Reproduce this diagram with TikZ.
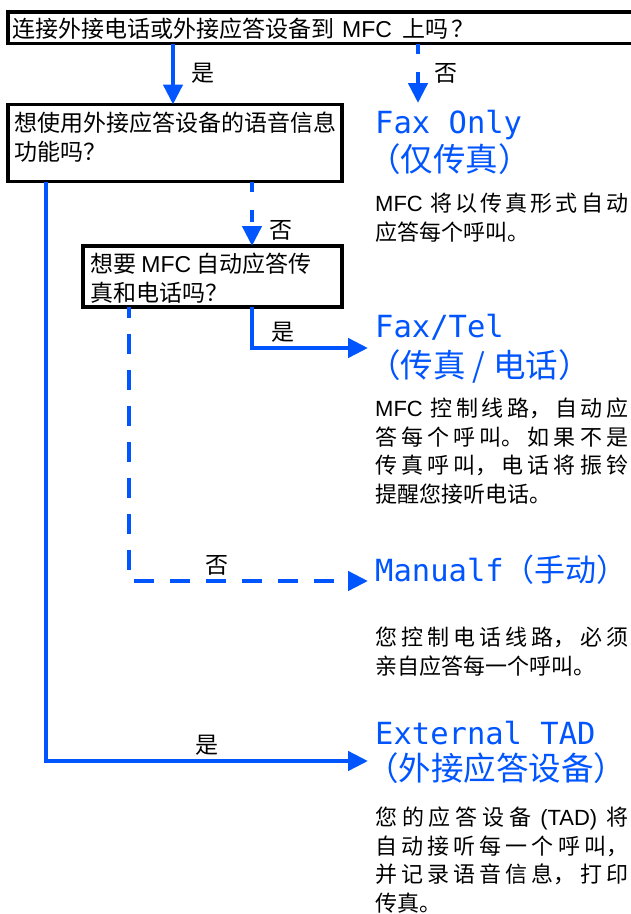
\documentclass[tikz,border=0pt]{standalone}
\usepackage{fontspec}
\setmainfont{Noto Sans CJK SC}
\newfontfamily\lcdfont{DejaVu Sans Mono}
\newfontfamily\latn{Liberation Sans}
\newcommand\cjkttlfont{\rmfamily\fontsize{32.5}{36}\selectfont}
\newcommand\cjksmallttlfont{\rmfamily\fontsize{31}{36}\selectfont}
\usetikzlibrary{arrows.meta}
\definecolor{fblue}{RGB}{0,85,255}
\XeTeXlinebreaklocale "zh"
\XeTeXlinebreakskip=0pt plus 3pt
\begin{document}
\begin{tikzpicture}[x=1pt,y=-1pt,
  qbox/.style={draw=black,line width=3.5pt,inner sep=0pt,outer sep=0pt,anchor=north west},
  qtext/.style={anchor=base west,inner sep=0pt,align=left,font=\fontsize{23}{29}\selectfont},
  lbl/.style={inner sep=0pt,font=\fontsize{23}{26}\selectfont},
  conn/.style={draw=fblue,line width=4.5pt,-{Triangle[length=20pt,width=19pt]}},
  noshort/.style={conn,dash pattern=on 10pt off 18pt on 12pt off 18pt},
  nolong/.style={conn,dash pattern=on 20pt off 16pt,dash phase=9pt},
  ttl/.style={anchor=base west,inner sep=0pt,text=fblue,font=\lcdfont\fontsize{30.5}{34}\selectfont},
  cttl/.style={anchor=base west,inner sep=0pt,text=fblue,font=\cjkttlfont},
  body/.style={anchor=base west,inner sep=0pt,text width=253pt,align=justify,font=\fontsize{22}{28.7}\selectfont}]
\useasboundingbox (0,0) rectangle (631,914);
% question boxes
\node[qbox,minimum width=640pt,minimum height=31.5pt] (q1) at (8,12) {};
\node[qtext] (q1t) at (12,37.5) {连接外接电话或外接应答设备到\hspace{8pt}{\latn MFC}\hspace{10pt}上吗\hspace{4pt}？};
\node[qbox,minimum width=334pt,minimum height=77pt] (q2) at (8,104.5) {};
\node[qtext] (q2t) at (14,160.8) {想使用外接应答设备的语音信息\\[0.5pt]功能吗？};
\node[qbox,minimum width=259pt,minimum height=61pt] (q3) at (83,246) {};
\node[qtext] (q3t) at (90,301.2) {想要 {\latn MFC} 自动应答传\\[-0.5pt]真和电话吗？};
% results
\node[ttl] (r1a) at (375,133) {Fax Only};
\node[cttl] (r1b) at (368,171) {（仅传真）};
\node[body] (r1c) at (375,211.4) {{\latn MFC} 将以传真形式自动\linebreak 应答每个呼叫。};
\node[ttl] (r2a) at (375,337) {Fax/Tel};
\node[cttl] (r2b) at (368,377) {（传真 / 电话）};
\node[body] (r2c) at (375,416.5) {{\latn MFC} 控制线路，自动应\linebreak 答每个呼叫。如果不是\linebreak 传真呼叫，电话将振铃\linebreak 提醒您接听电话。};
\node[ttl] (r3a) at (375,581) {Manualf{\cjksmallttlfont （手动）}};
\node[body] (r3c) at (375,645.5) {您控制电话线路，必须\linebreak 亲自应答每一个呼叫。};
\node[ttl] (r4a) at (375,744) {External TAD};
\node[cttl] (r4b) at (366,780) {（外接应答设备）};
\node[body] (r4c) at (375,825.5) {您的应答设备 {\latn (TAD)} 将\linebreak 自动接听每一个呼叫，\linebreak 并记录语音信息，打印\linebreak 传真。};
% connectors
\coordinate (c1) at (173,0);
\coordinate (c2) at (418,103);
\coordinate (c3) at (252,0);
\coordinate (c4) at (129,0);
\coordinate (c5) at (46,0);
\coordinate (e2) at (368,348);
\coordinate (e3) at (368,581);
\coordinate (e4) at (368,761);
\draw[conn] (c1 |- q1.south) -- (c1 |- q2.north);
\draw[noshort] (c2 |- q1.south) -- (c2);
\draw[noshort] (c3 |- q2.south) -- (c3 |- q3.north);
\draw[conn] (c3 |- q3.south) |- (e2);
\draw[nolong] (c4 |- q3.south) |- (e3);
\draw[conn] (c5 |- q2.south) |- (e4);
% labels
\node[lbl] (l1) at (203,73) {是};
\node[lbl] (l2) at (446,73) {否};
\node[lbl] (l3) at (281,230) {否};
\node[lbl] (l4) at (283,332) {是};
\node[lbl] (l5) at (217,565) {否};
\node[lbl] (l6) at (207,745) {是};
\end{tikzpicture}
\end{document}
